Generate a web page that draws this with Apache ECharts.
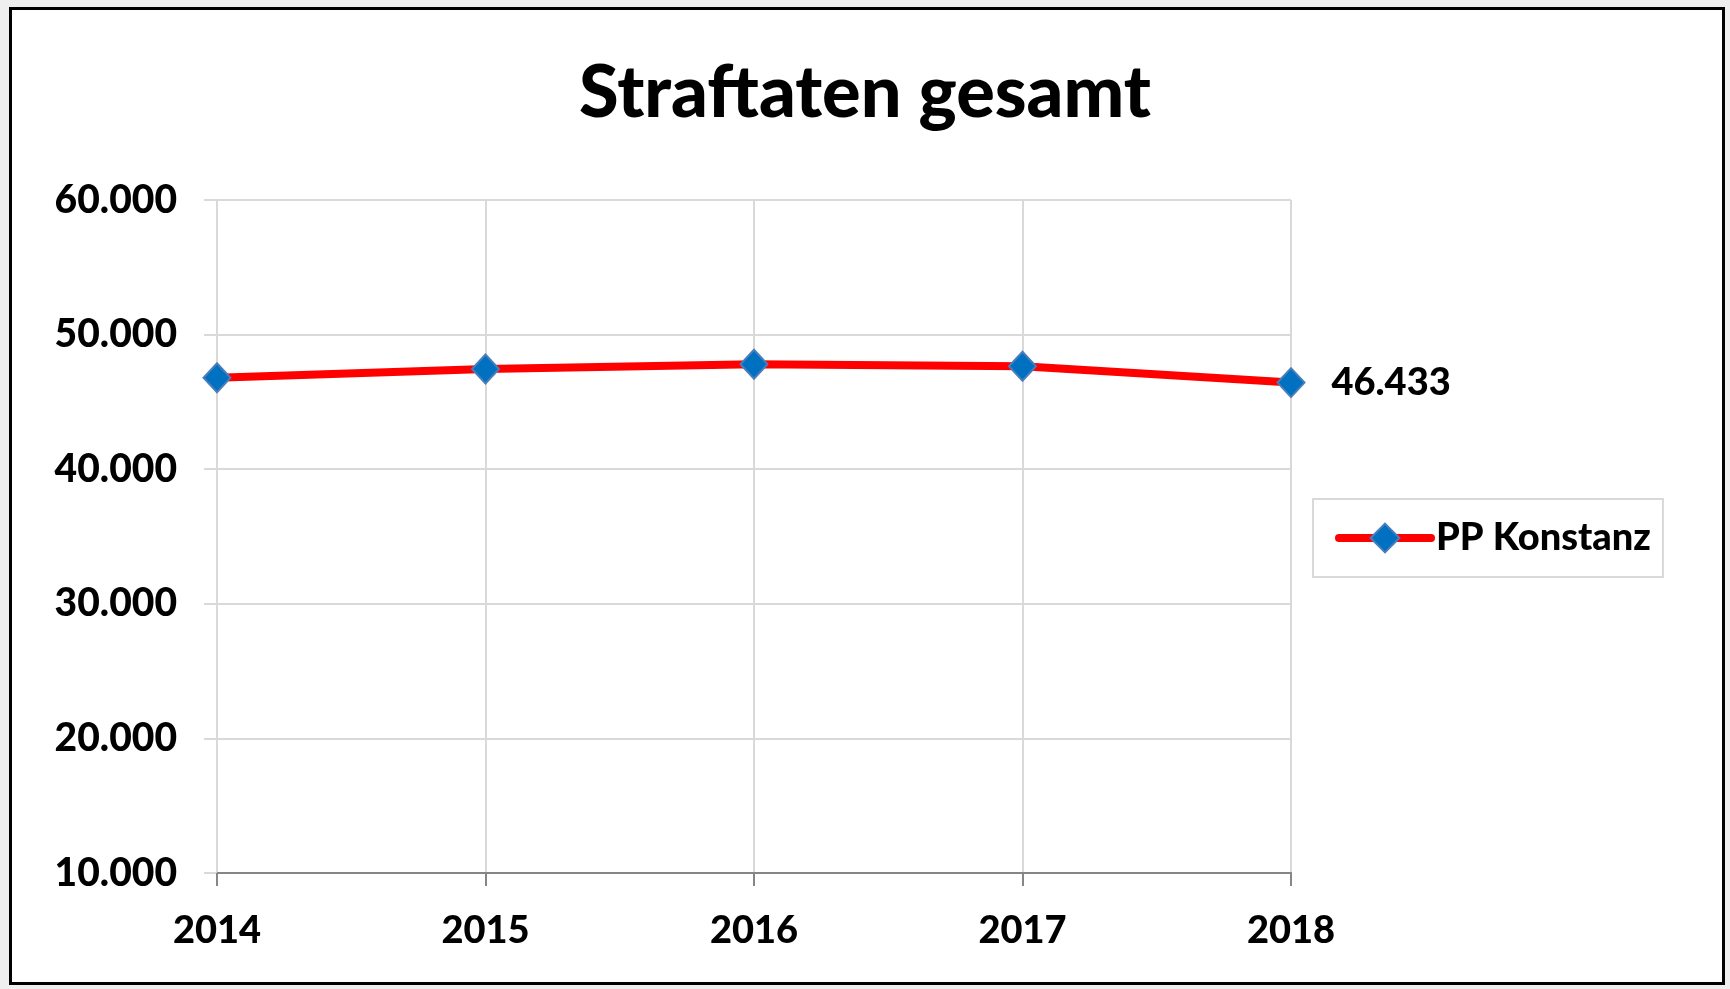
<!DOCTYPE html>
<html>
<head>
<meta charset="utf-8">
<title>Straftaten gesamt</title>
<script src="https://cdn.jsdelivr.net/npm/echarts@6/dist/echarts.min.js"></script>
<style>
  html, body { margin: 0; padding: 0; background: #efefef; }
  #frame {
    position: absolute; left: 9px; top: 7px; width: 1710px; height: 972px;
    border: 3px solid #000; background: #fff;
  }
  #chart { position: absolute; left: 0; top: 0; width: 1730px; height: 989px; }
</style>
</head>
<body>
<div id="frame"></div>
<div id="chart"></div>
<script>
// Jahre und Werte (PP Konstanz, Straftaten gesamt)
const years = ["2014", "2015", "2016", "2017", "2018"];
const values = [46800, 47450, 47800, 47650, 46433];
const seriesName = "PP Konstanz";

const fontFamily = "Lato, 'Open Sans', sans-serif";
const weight = 900;

// nur der letzte Wert bekommt ein Label
const seriesData = values.map((v, i) =>
  i === values.length - 1
    ? { value: v, label: { show: true } }
    : v
);

const chart = echarts.init(document.getElementById("chart"));
const option = {
  backgroundColor: "transparent",
  title: {
    text: "Straftaten gesamt",
    left: "center",
    top: 53,
    textStyle: {
      fontFamily: fontFamily,
      fontWeight: weight,
      fontSize: 72,
      color: "#000",
    },
  },
  legend: {
    left: 1313,
    top: 499,
    orient: "vertical",
    padding: [20, 12, 20, 22],
    borderColor: "#d9d9d9",
    borderWidth: 2,
    itemWidth: 92,
    itemHeight: 36,
    itemGap: 0,
    lineStyle: { width: 8, cap: "round" },
    textStyle: {
      fontFamily: fontFamily,
      fontWeight: weight,
      fontSize: 38,
      color: "#000",
    },
    data: [seriesName],
  },
  grid: {
    left: 217,
    right: 439,
    top: 200,
    bottom: 116,
    containLabel: false,
  },
  xAxis: {
    type: "category",
    data: years,
    boundaryGap: false,
    axisLine: { lineStyle: { color: "#868686", width: 2 } },
    axisTick: { show: true, length: 13, lineStyle: { color: "#868686", width: 2 } },
    splitLine: { show: true, lineStyle: { color: "#d9d9d9", width: 2 } },
    axisLabel: {
      margin: 39,
      fontFamily: fontFamily,
      fontWeight: weight,
      fontSize: 38,
      color: "#000",
    },
  },
  yAxis: {
    type: "value",
    min: 10000,
    max: 60000,
    interval: 10000,
    axisLine: { show: true, lineStyle: { color: "#d9d9d9", width: 2 } },
    axisTick: { show: true, length: 13, lineStyle: { color: "#d9d9d9", width: 2 } },
    splitLine: { show: true, lineStyle: { color: "#d9d9d9", width: 2 } },
    axisLabel: {
      margin: 40,
      fontFamily: fontFamily,
      fontWeight: weight,
      fontSize: 39,
      color: "#000",
      formatter: (v) => v.toLocaleString("de-DE"),
    },
  },
  series: [
    {
      name: seriesName,
      type: "line",
      data: seriesData,
      symbol: "diamond",
      symbolSize: [27, 29],
      lineStyle: { color: "#ff0000", width: 8, cap: "round" },
      itemStyle: { color: "#0070c0", borderColor: "#4a7ebb", borderWidth: 2 },
      label: {
        show: false,
        position: "right",
        distance: 26,
        fontFamily: fontFamily,
        fontWeight: weight,
        fontSize: 38,
        color: "#000",
        formatter: (p) => p.value.toLocaleString("de-DE"),
      },
      emphasis: { disabled: true },
      animation: false,
    },
  ],
  animation: false,
};
chart.setOption(option);
</script>
</body>
</html>
